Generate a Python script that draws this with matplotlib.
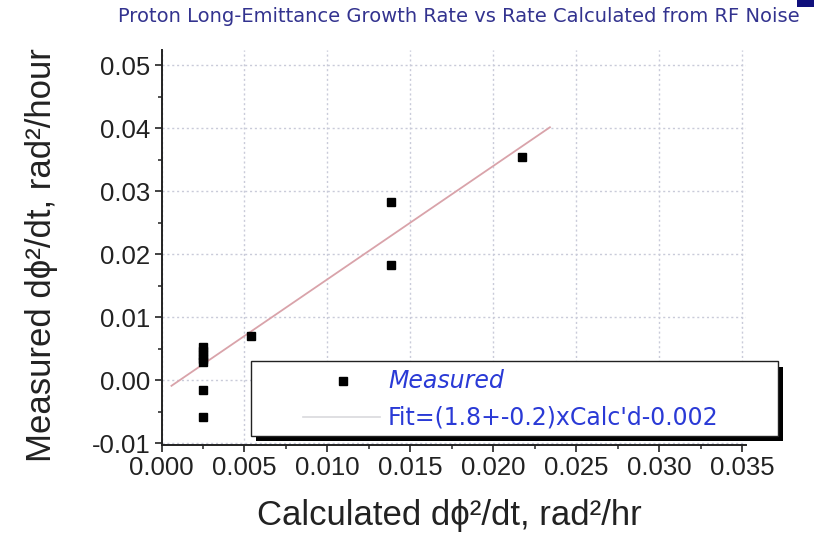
import matplotlib
matplotlib.use("Agg")
import matplotlib.pyplot as plt
from matplotlib.lines import Line2D
from matplotlib.patches import Rectangle
from matplotlib.ticker import MultipleLocator, FormatStrFormatter

# Measured vs calculated phase-noise growth rates
calc_rate = [0.0025, 0.0025, 0.0025, 0.0025, 0.0025, 0.0025, 0.0025,
             0.0054, 0.0138, 0.0138, 0.0217]
meas_rate = [0.0053, 0.0046, 0.0040, 0.0034, 0.0028, -0.0016, -0.0059,
             0.0070, 0.0283, 0.0183, 0.0354]

# Linear fit quoted in the legend
fit_slope = 1.8
fit_intercept = -0.002
fit_x_range = [0.0006, 0.0234]

title_text = "Proton Long-Emittance Growth Rate vs Rate Calculated from RF Noise"
legend_labels = ["Measured", "Fit=(1.8+-0.2)xCalc'd-0.002"]
x_label = "Calculated d\u03d5\u00b2/dt, rad\u00b2/hr"
y_label = "Measured d\u03d5\u00b2/dt, rad\u00b2/hour"

W, H = 814, 538
plt.rcParams["font.family"] = ["Liberation Sans", "DejaVu Sans"]
plt.rcParams["axes.unicode_minus"] = False

fig = plt.figure(figsize=(W / 100, H / 100), dpi=100)
fig.patch.set_facecolor("white")


def fx(px):
    return px / W


def fy(py):
    return 1 - py / H


ax = fig.add_axes([fx(161.5), fy(444.9), (745.8 - 161.5) / W, (444.9 - 49.9) / H])
ax.set_xlim(0, 0.0352)
ax.set_ylim(-0.0103, 0.0524)

for side in ("top", "right"):
    ax.spines[side].set_visible(False)
for side in ("left", "bottom"):
    ax.spines[side].set_linewidth(1.4)
    ax.spines[side].set_color("#222222")

ax.xaxis.set_major_locator(MultipleLocator(0.005))
ax.xaxis.set_minor_locator(MultipleLocator(0.0025))
ax.yaxis.set_major_locator(MultipleLocator(0.01))
ax.yaxis.set_minor_locator(MultipleLocator(0.005))
ax.xaxis.set_major_formatter(FormatStrFormatter("%.3f"))
ax.yaxis.set_major_formatter(FormatStrFormatter("%.2f"))
ax.tick_params(which="major", direction="out", length=5, width=1.2,
               labelsize=18.5, colors="#222222", pad=3)
ax.tick_params(which="minor", direction="out", length=3, width=1.1, colors="#222222")

ax.grid(True, which="major", color="#c9cbd9", linestyle=(0, (1.5, 2)), linewidth=1.0)
ax.set_axisbelow(True)

fit_y = [fit_slope * x + fit_intercept for x in fit_x_range]
ax.plot(fit_x_range, fit_y, color="#d9a3aa", linewidth=1.3, zorder=3)
ax.plot(calc_rate, meas_rate, linestyle="none", marker="s", markersize=5.2,
        color="black", zorder=4)

ax.set_xlabel(x_label, fontsize=25, color="#222222")
ax.xaxis.set_label_coords((449 - 161.5) / 584.3, (444.9 - 515) / 395)
ax.xaxis.label.set_va("center")
ax.set_ylabel(y_label, fontsize=25, color="#222222")
ax.yaxis.set_label_coords((42 - 161.5) / 584.3, (444.9 - 255) / 395)
ax.yaxis.label.set_va("center")

# Title
fig.text(fx(459), fy(17), title_text, ha="center", va="center", fontsize=14,
         color="#33338f", family=["DejaVu Sans"])
fig.add_artist(Rectangle((fx(797), fy(7)), (814 - 797) / W, 7 / H,
                         transform=fig.transFigure, facecolor="#10107c",
                         edgecolor="none"))

# Legend box with drop shadow
shadow = Rectangle((fx(256), fy(441)), (783 - 256) / W, (441 - 367) / H,
                   transform=fig.transFigure, facecolor="black", edgecolor="none",
                   zorder=10)
box = Rectangle((fx(251), fy(436)), (778 - 251) / W, (436 - 361) / H,
                transform=fig.transFigure, facecolor="white", edgecolor="#222222",
                linewidth=1.0, zorder=11)
fig.add_artist(shadow)
fig.add_artist(box)
fig.add_artist(Line2D([fx(343)], [fy(381)], marker="s", markersize=5.2,
                      color="black", linestyle="none",
                      transform=fig.transFigure, zorder=12))
fig.add_artist(Line2D([fx(303), fx(380)], [fy(417), fy(417)], color="#d9d9dd",
                      linewidth=1.2, transform=fig.transFigure, zorder=12))
fig.text(fx(388), fy(381), legend_labels[0], ha="left", va="center", fontsize=17,
         style="italic", color="#2a3ad6", family=["DejaVu Sans"], zorder=12)
fig.text(fx(388), fy(417), legend_labels[1], ha="left", va="center", fontsize=17,
         color="#2a3ad6", family=["DejaVu Sans"], zorder=12)

fig.savefig("out.png", dpi=100, facecolor="white")
